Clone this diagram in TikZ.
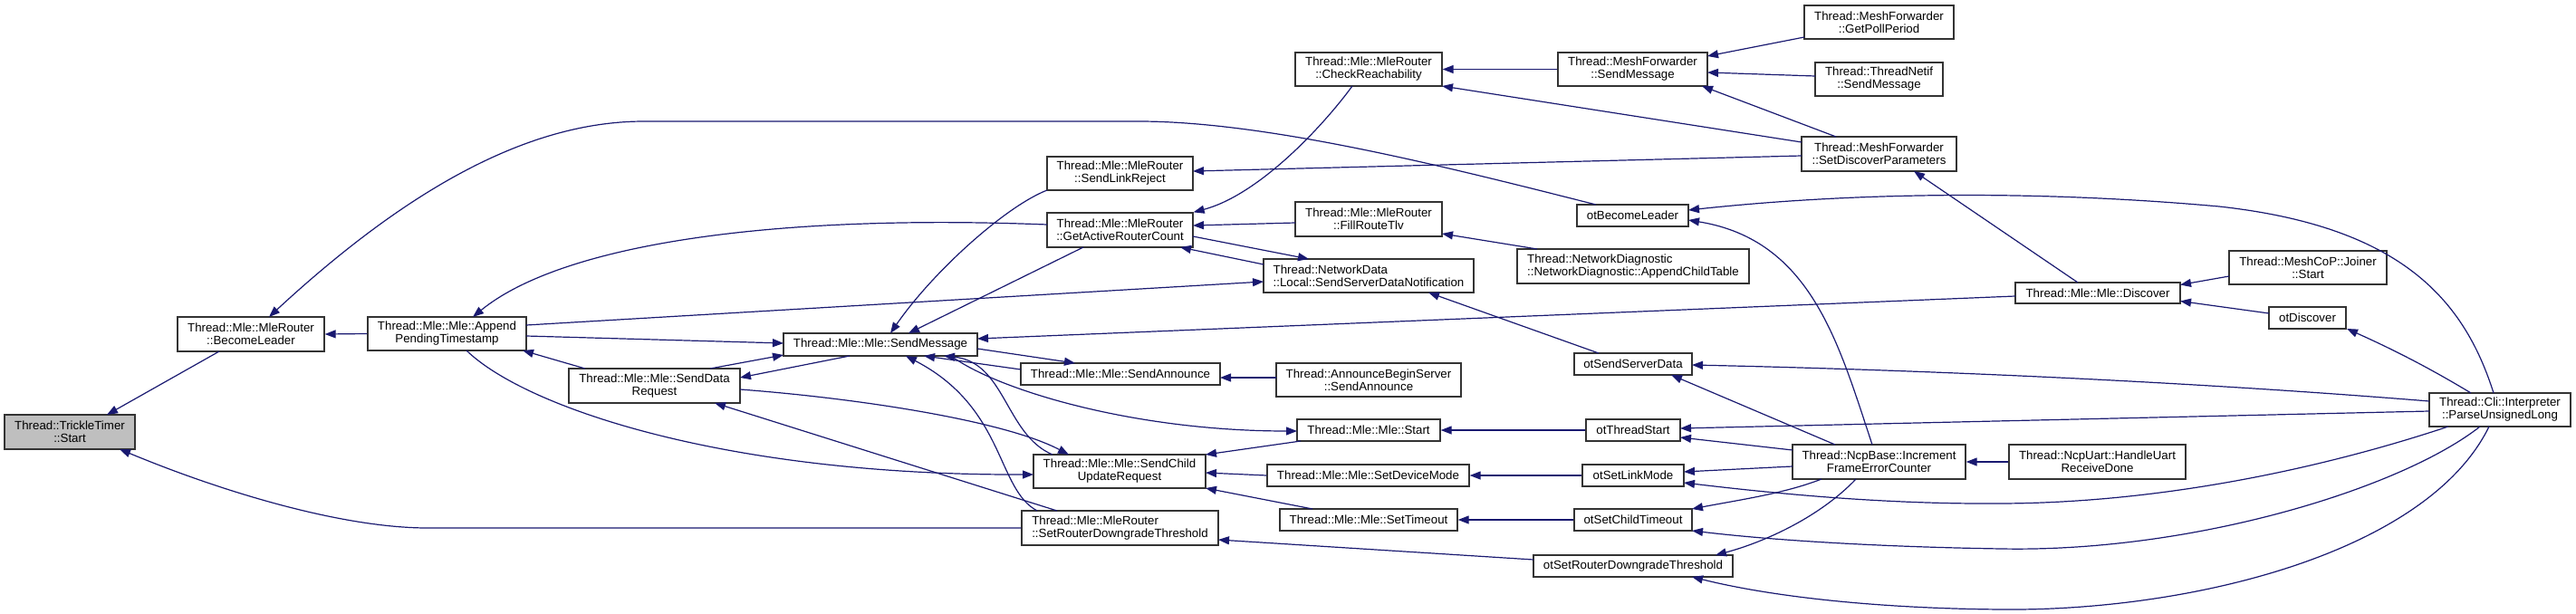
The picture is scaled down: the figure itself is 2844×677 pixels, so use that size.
\documentclass[tikz,border=0pt]{standalone}
\usepackage{fontspec}
\setmainfont{Liberation Sans}
\usetikzlibrary{arrows.meta,calc}
\definecolor{mblue}{HTML}{191970}
\definecolor{startgray}{HTML}{BFBFBF}
\definecolor{boxline}{HTML}{333333}
\tikzset{
  fn/.style={draw=boxline, line width=1.3pt, align=center, inner sep=0pt,
    font=\fontsize{13.3}{14}\selectfont, fill=white},
  fnl/.style={fn, align=left},
  wh/.style 2 args={minimum width=#1pt, minimum height=#2pt},
  edge/.style={draw=mblue, line width=1.2pt, -{Triangle[length=12pt,width=9pt]}, fill=none},
}
\begin{document}
\begin{tikzpicture}[x=1pt,y=-1pt]
\useasboundingbox (0,0) rectangle (2844,677);
% nodes
\node[fn,wh={144}{38},fill=startgray] (tt) at (77,477) {Thread::TrickleTimer\\::Start};
\node[fn,wh={162}{38}] (bl) at (277,369) {Thread::Mle::MleRouter\\::BecomeLeader};
\node[fn,wh={175}{37}] (apt) at (493.5,368.5) {Thread::Mle::Mle::Append\\PendingTimestamp};
\node[fn,wh={189}{38}] (sdr) at (722.5,426) {Thread::Mle::Mle::SendData\\Request};
\node[fn,wh={214}{25}] (sm) at (972,380.5) {Thread::Mle::Mle::SendMessage};
\node[fn,wh={161}{37}] (slr) at (1236.5,191.5) {Thread::Mle::MleRouter\\::SendLinkReject};
\node[fn,wh={161}{38}] (garc) at (1236.5,254) {Thread::Mle::MleRouter\\::GetActiveRouterCount};
\node[fn,wh={220}{24}] (sa) at (1237,413) {Thread::Mle::Mle::SendAnnounce};
\node[fn,wh={190}{37}] (scur) at (1236,520.5) {Thread::Mle::Mle::SendChild\\UpdateRequest};
\node[fnl,wh={217}{38}] (srdt) at (1236.5,583) {Thread::Mle::MleRouter\\::SetRouterDowngradeThreshold};
\node[fn,wh={162}{37}] (cr) at (1511,76.5) {Thread::Mle::MleRouter\\::CheckReachability};
\node[fn,wh={162}{38}] (frt) at (1511,242) {Thread::Mle::MleRouter\\::FillRouteTlv};
\node[fnl,wh={232}{37}] (ssdn) at (1511,304.5) {Thread::NetworkData\\::Local::SendServerDataNotification};
\node[fn,wh={204}{37}] (abs) at (1511,419.5) {Thread::AnnounceBeginServer\\::SendAnnounce};
\node[fn,wh={158}{24}] (st) at (1511,475) {Thread::Mle::Mle::Start};
\node[fn,wh={223}{24}] (sdm) at (1510.5,525) {Thread::Mle::Mle::SetDeviceMode};
\node[fn,wh={196}{24}] (sto) at (1511,574) {Thread::Mle::Mle::SetTimeout};
\node[fn,wh={165}{37}] (mfsm) at (1802.5,76.5) {Thread::MeshForwarder\\::SendMessage};
\node[fn,wh={123}{24}] (obl) at (1802.5,238) {otBecomeLeader};
\node[fnl,wh={256}{38}] (nd) at (1803,294) {Thread::NetworkDiagnostic\\::NetworkDiagnostic::AppendChildTable};
\node[fn,wh={130}{24}] (ossd) at (1803,402) {otSendServerData};
\node[fn,wh={104}{24}] (ots) at (1803,475) {otThreadStart};
\node[fn,wh={112}{24}] (oslm) at (1803,525) {otSetLinkMode};
\node[fn,wh={130}{24}] (osct) at (1803,574) {otSetChildTimeout};
\node[fn,wh={220}{24}] (osrdt) at (1803,625) {otSetRouterDowngradeThreshold};
\node[fn,wh={165}{37}] (gpp) at (2074.5,24.5) {Thread::MeshForwarder\\::GetPollPeriod};
\node[fn,wh={141}{37}] (tnsm) at (2074.5,87.5) {Thread::ThreadNetif\\::SendMessage};
\node[fn,wh={171}{38}] (sdp) at (2074.5,170) {Thread::MeshForwarder\\::SetDiscoverParameters};
\node[fn,wh={191}{38}] (ifec) at (2074.5,510) {Thread::NcpBase::Increment\\FrameErrorCounter};
\node[fn,wh={182}{23}] (disc) at (2316,323.5) {Thread::Mle::Mle::Discover};
\node[fn,wh={195}{38}] (hurd) at (2315.5,510) {Thread::NcpUart::HandleUart\\ReceiveDone};
\node[fn,wh={174}{37}] (js) at (2548,295.5) {Thread::MeshCoP::Joiner\\::Start};
\node[fn,wh={85}{24}] (otd) at (2547.5,351) {otDiscover};
\node[fn,wh={156}{37}] (pul) at (2760,452.5) {Thread::Cli::Interpreter\\::ParseUnsignedLong};
% edges (arrow at callee)
\draw[edge] ($(bl)+(-35,19)$) -- ($(tt)+(41,-19)$);
\draw[edge] (srdt.west) -- (472,583) .. controls (380,583) and (250,545) .. ($(tt)+(55,19)$);
\draw[edge] ($(obl)+(-40.5,-12)$) .. controls (1600,185) and (1400,134) .. (1257,134) -- (711,134) .. controls (600,134) and (470,190) .. ($(bl)+(20,-19)$);
\draw[edge] (apt.west) -- (bl.east);
\draw[edge] ($(garc)+(-80.5,-6)$) .. controls (850,236) and (620,270) .. ($(apt)+(28.5,-18.5)$);
\draw[edge] ($(apt)+(87.5,-9.5)$) -- ($(ssdn)+(-116,6.5)$);
\draw[edge] ($(apt)+(87.5,2.5)$) -- ($(sm)+(-107,-1.5)$);
\draw[edge] ($(sdr)+(-76.5,-19)$) -- ($(apt)+(83.5,18.5)$);
\draw[edge] ($(sdr)+(61.5,-19)$) -- ($(sm)+(-107,11.5)$);
\draw[edge] ($(sm)+(-34,12.5)$) -- ($(sdr)+(94.5,-9)$);
\draw[edge] ($(slr)+(-80.5,18.5)$) .. controls (1110,228) and (1030,300) .. ($(sm)+(11,-12.5)$);
\draw[edge] ($(garc)+(-40.5,19)$) -- ($(sm)+(31,-12.5)$);
\draw[edge] ($(disc)+(-91,3.5)$) -- ($(sm)+(107,-6.5)$);
\draw[edge] ($(sm)+(107,4.5)$) -- ($(sa)+(-50,-12)$);
\draw[edge] ($(sa)+(-110,-5)$) -- ($(sm)+(48,12.5)$);
\draw[edge] ($(sm)+(78,12.5)$) .. controls (1100,430) and (1250,476) .. ($(st)+(-79,1)$);
\draw[edge] ($(scur)+(-74,-18.5)$) .. controls (1110,480) and (1110,400) .. ($(sm)+(70,12.5)$);
\draw[edge] ($(srdt)+(-91.5,-19)$) .. controls (1100,540) and (1110,450) .. ($(sm)+(28,12.5)$);
\draw[edge] ($(sdr)+(94.5,4)$) .. controls (950,440) and (1110,465) .. ($(scur)+(-56,-18.5)$);
\draw[edge] ($(srdt)+(-69.5,-19)$) -- ($(sdr)+(66.5,19)$);
\draw[edge] ($(apt)+(21.5,18.5)$) .. controls (580,450) and (800,525) .. ($(scur)+(-95,3.5)$);
\draw[edge] ($(st)+(-75,12)$) -- ($(scur)+(95,-18.5)$);
\draw[edge] (sdm.west) -- ($(scur)+(95,1.5)$);
\draw[edge] ($(sto)+(-62,-12)$) -- ($(scur)+(95,18.5)$);
\draw[edge] ($(osrdt)+(-110,-7)$) -- ($(srdt)+(108.5,13)$);
\draw[edge] ($(abs)+(-102,-2.5)$) -- ($(sa)+(110,4)$);
\draw[edge] (ots.west) -- (st.east);
\draw[edge] (oslm.west) -- (sdm.east);
\draw[edge] (osct.west) -- (sto.east);
\draw[edge] ($(ossd)+(-38,-12)$) -- ($(ssdn)+(66,18.5)$);
\draw[edge] ($(garc)+(80.5,7)$) -- ($(ssdn)+(-66,-18.5)$);
\draw[edge] ($(ssdn)+(-116,-12.5)$) -- ($(garc)+(66.5,19)$);
\draw[edge] ($(frt)+(-81,4)$) -- ($(garc)+(80.5,-5)$);
\draw[edge] ($(nd)+(-106,-19)$) -- ($(frt)+(81,16)$);
\draw[edge] ($(cr)+(-18,18.5)$) .. controls (1460,140) and (1390,215) .. (garc.north east);
\draw[edge] (mfsm.west) -- (cr.east);
\draw[edge] ($(sdp)+(-85.5,-13)$) -- ($(cr)+(81,18.5)$);
\draw[edge] ($(sdp)+(-85.5,2)$) -- ($(slr)+(80.5,-2.5)$);
\draw[edge] ($(sdp)+(-47.5,-19)$) -- ($(mfsm)+(76.5,18.5)$);
\draw[edge] ($(gpp)+(-82.5,16.5)$) -- ($(mfsm)+(82.5,-14.5)$);
\draw[edge] ($(tnsm)+(-70.5,-3.5)$) -- ($(mfsm)+(82.5,3.5)$);
\draw[edge] ($(disc)+(-22,-11.5)$) -- ($(sdp)+(38.5,19)$);
\draw[edge] ($(js)+(-87,9.5)$) -- ($(disc)+(91,-9)$);
\draw[edge] ($(otd)+(-42.5,-5)$) -- ($(disc)+(91,9)$);
\draw[edge] ($(pul)+(-32,-18.5)$) .. controls (2680,405) and (2640,385) .. ($(otd)+(43.5,12)$);
\draw[edge] ($(pul)+(-7,-18.5)$) .. controls (2720,330) and (2650,250) .. (2450,228) .. controls (2250,210) and (2050,212) .. ($(obl)+(61.5,-6)$);
\draw[edge] ($(pul)+(-78,-9.5)$) .. controls (2400,420) and (2100,408) .. ($(ossd)+(65,1)$);
\draw[edge] ($(pul)+(-78,1.5)$) -- ($(ots)+(52,-2)$);
\draw[edge] ($(pul)+(-57,18.5)$) .. controls (2580,512) and (2400,555) .. (2210,556) .. controls (2080,557) and (1960,545) .. ($(oslm)+(56,8)$);
\draw[edge] ($(pul)+(-22,18.5)$) .. controls (2650,540) and (2420,610) .. (2210,606) .. controls (2080,604) and (1960,597) .. ($(osct)+(65,12)$);
\draw[edge] ($(pul)+(-12,18.5)$) .. controls (2680,610) and (2420,675) .. (2210,673) .. controls (2080,672) and (1960,660) .. ($(osrdt)+(65,12)$);
\draw[edge] ($(ifec)+(-48.5,-19)$) -- ($(ossd)+(42,12)$);
\draw[edge] ($(ifec)+(-95.5,-13)$) -- ($(ots)+(52,8)$);
\draw[edge] ($(ifec)+(-95.5,5)$) -- ($(oslm)+(56,-4)$);
\draw[edge] ($(ifec)+(-63.5,19)$) .. controls (1970,545) and (1920,552) .. ($(osct)+(65,-12)$);
\draw[edge] ($(ifec)+(-25.5,19)$) .. controls (2010,570) and (1950,598) .. ($(osrdt)+(91,-12)$);
\draw[edge] ($(ifec)+(-7.5,-19)$) .. controls (2030,380) and (2000,265) .. ($(obl)+(61.5,5)$);
\draw[edge] (hurd.west) -- (ifec.east);
\end{tikzpicture}
\end{document}
